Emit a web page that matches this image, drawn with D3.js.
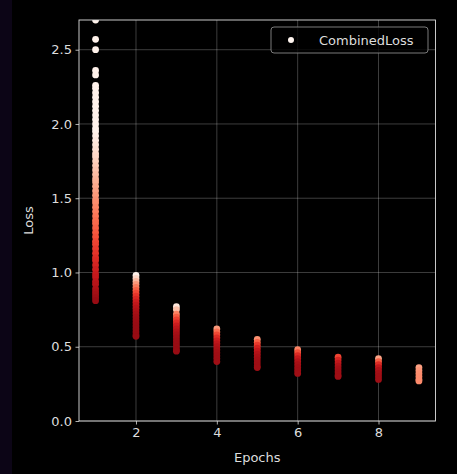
<!DOCTYPE html>
<html>
<head>
<meta charset="UTF-8">
<script src="https://d3js.org/d3.v7.min.js"></script>
<style>
  body { margin: 0; background: #0c0516; }
  svg { display: block; position: absolute; left: 12px; top: 0; }
  text { font-family: "DejaVu Sans", sans-serif; }
</style>
</head>
<body>
<svg width="445" height="474"></svg>
<script>
// loss values per epoch
const lossEpoch1 = [2.70, 2.57, 2.50, 2.36, 2.33, 2.26, 2.24, 2.21, 2.18, 2.15, 2.12, 2.09, 2.06, 2.03, 2.00,
  1.97, 1.95, 1.92, 1.89, 1.86, 1.83, 1.80, 1.78, 1.75, 1.72, 1.69, 1.66, 1.63, 1.61, 1.58, 1.55, 1.52,
  1.49, 1.47, 1.44, 1.41, 1.38, 1.35, 1.33, 1.30, 1.27, 1.24, 1.21, 1.19, 1.16, 1.13, 1.10, 1.08, 1.05,
  1.02, 0.99, 0.97, 0.94, 0.92, 0.89, 0.87, 0.85, 0.83, 0.81];
const lossEpoch2 = [0.98, 0.96, 0.94, 0.92, 0.90, 0.88, 0.86, 0.84, 0.82, 0.80, 0.78, 0.76, 0.74, 0.72,
  0.70, 0.68, 0.66, 0.64, 0.62, 0.60, 0.58, 0.57];
const lossEpoch3 = [0.77, 0.75, 0.72, 0.70, 0.68, 0.66, 0.64, 0.62, 0.60, 0.58, 0.56, 0.54, 0.52, 0.50, 0.48, 0.47];
const lossEpoch4 = [0.62, 0.60, 0.58, 0.56, 0.54, 0.52, 0.50, 0.48, 0.46, 0.44, 0.42, 0.40];
const lossEpoch5 = [0.55, 0.53, 0.51, 0.49, 0.47, 0.45, 0.43, 0.41, 0.39, 0.37, 0.36];
const lossEpoch6 = [0.48, 0.46, 0.44, 0.42, 0.40, 0.38, 0.36, 0.34, 0.32];
const lossEpoch7 = [0.43, 0.41, 0.39, 0.37, 0.35, 0.33, 0.31, 0.30];
const lossEpoch8 = [0.42, 0.40, 0.38, 0.36, 0.34, 0.32, 0.30, 0.28];
const lossEpoch9 = [0.36, 0.34, 0.32, 0.30, 0.28, 0.27];

const epochs = [1, 2, 3, 4, 5, 6, 7, 8, 9];
const lossByEpoch = [lossEpoch1, lossEpoch2, lossEpoch3, lossEpoch4, lossEpoch5,
  lossEpoch6, lossEpoch7, lossEpoch8, lossEpoch9];
// colour value (Reds colormap) of highest / lowest point in each epoch
const shadeTop    = [0.02, 0.02, 0.08, 0.35, 0.38, 0.42, 0.60, 0.32, 0.33];
const shadeBottom = [0.90, 0.90, 0.90, 0.88, 0.88, 0.88, 0.88, 0.88, 0.40];
// loss at which the colour reaches its top value (epoch 1 saturates early)
const shadeCeil   = [1.95, 0.98, 0.77, 0.62, 0.55, 0.48, 0.43, 0.42, 0.36];

const xTicks = [2, 4, 6, 8];
const yTicks = [0.0, 0.5, 1.0, 1.5, 2.0, 2.5];
const seriesName = "CombinedLoss";

const points = [];
epochs.forEach((e, i) => {
  const vals = lossByEpoch[i];
  const lo = d3.min(vals);
  const gamma = i === 0 ? 1 : 3;
  vals.forEach(v => {
    const t = Math.max(0, Math.min(1, (v - lo) / (shadeCeil[i] - lo)));
    points.push({ epoch: e, loss: v, shade: shadeBottom[i] + (shadeTop[i] - shadeBottom[i]) * Math.pow(t, gamma) });
  });
});

const svg = d3.select("svg");
const off = 12;
const margin = { left: 79 - off, top: 20, right: 445 - (435.5 - off), bottom: 474 - 421 };
const W = 445 - margin.left - margin.right;
const H = 474 - margin.top - margin.bottom;

svg.append("rect").attr("width", 445).attr("height", 474).attr("fill", "#000");

const g = svg.append("g").attr("transform", `translate(${margin.left},${margin.top})`);

const x = d3.scaleLinear().domain([0.59, 9.41]).range([0, W]);
const y = d3.scaleLinear().domain([0, 2.7]).range([H, 0]);

// grid
g.append("g").selectAll("line").data(xTicks).join("line")
  .attr("x1", d => x(d)).attr("x2", d => x(d)).attr("y1", 0).attr("y2", H)
  .attr("stroke", "#fff").attr("stroke-opacity", 0.3).attr("stroke-width", 0.8);
g.append("g").selectAll("line").data(yTicks).join("line")
  .attr("x1", 0).attr("x2", W).attr("y1", d => y(d)).attr("y2", d => y(d))
  .attr("stroke", "#fff").attr("stroke-opacity", 0.3).attr("stroke-width", 0.8);

// points
g.append("defs").append("clipPath").attr("id", "clip")
  .append("rect").attr("width", W).attr("height", H);
g.append("g").attr("clip-path", "url(#clip)")
  .selectAll("circle").data(points).join("circle")
  .attr("cx", d => x(d.epoch)).attr("cy", d => y(d.loss)).attr("r", 3.4)
  .attr("fill", d => d3.interpolateReds(d.shade));

// axes
const xAxis = g.append("g").attr("transform", `translate(0,${H})`)
  .call(d3.axisBottom(x).tickValues(xTicks).tickSize(3.5).tickPadding(3.5).tickFormat(d3.format("d")));
const yAxis = g.append("g")
  .call(d3.axisLeft(y).tickValues(yTicks).tickSize(3.5).tickPadding(3.5).tickFormat(d3.format(".1f")));
[xAxis, yAxis].forEach(a => {
  a.select(".domain").remove();
  a.selectAll("line").attr("stroke", "#ddd").attr("stroke-width", 0.8);
  a.selectAll("text").attr("fill", "#ddd").attr("font-size", 13).attr("font-family", "DejaVu Sans");
});

// spines
g.append("rect").attr("width", W).attr("height", H)
  .attr("fill", "none").attr("stroke", "#ddd").attr("stroke-width", 0.9);

// labels
g.append("text").attr("x", W / 2).attr("y", H + 41).attr("text-anchor", "middle")
  .attr("fill", "#ddd").attr("font-size", 13).text("Epochs");
g.append("text").attr("transform", `translate(${-46},${H / 2}) rotate(-90)`)
  .attr("text-anchor", "middle").attr("fill", "#ddd").attr("font-size", 13).text("Loss");

// legend
const lg = g.append("g").attr("transform", `translate(${271 - 79},${27 - 20})`);
lg.append("rect").attr("width", 157).attr("height", 26).attr("rx", 3)
  .attr("fill", "#000").attr("fill-opacity", 0.8).attr("stroke", "#888").attr("stroke-width", 0.9);
lg.append("circle").attr("cx", 20).attr("cy", 13).attr("r", 3).attr("fill", "#fff5f0");
lg.append("text").attr("x", 48).attr("y", 17.5).attr("fill", "#ddd").attr("font-size", 13).text(seriesName);
</script>
</body>
</html>
